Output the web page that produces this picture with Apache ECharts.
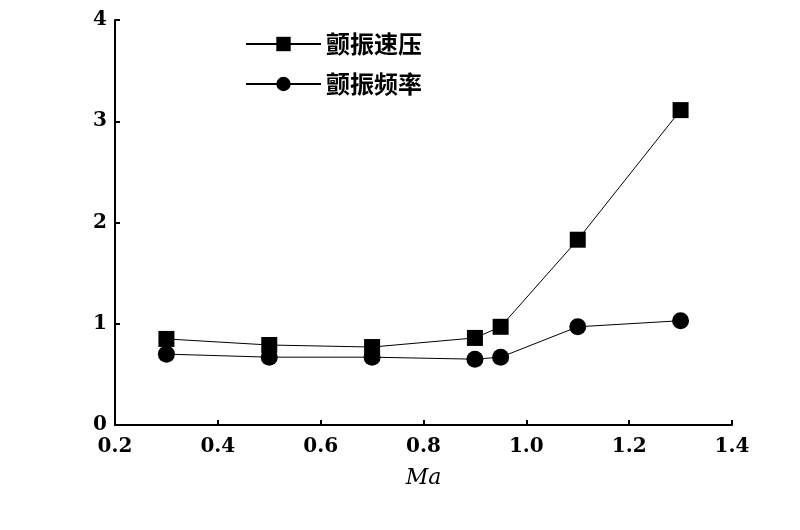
<!DOCTYPE html>
<html><head><meta charset="utf-8">
<script src="https://cdn.jsdelivr.net/npm/echarts@6/dist/echarts.min.js"></script>
</head><body style="margin:0;background:#fff">
<div id="c" style="width:800px;height:530px"></div>
<script>
const xVals = [0.3, 0.5, 0.7, 0.9, 0.95, 1.1, 1.3];
const pressure = [0.85, 0.79, 0.77, 0.86, 0.97, 1.83, 3.11];
const freq = [0.70, 0.67, 0.67, 0.65, 0.67, 0.97, 1.03];
const names = ['颤振速压', '颤振频率'];
const ch = echarts.init(document.getElementById('c'));
const font = {fontFamily: 'DejaVu Serif', fontSize: 20, color: '#000', fontWeight: 'bold'};
ch.setOption({
  animation: false,
  grid: {left: 115, right: 68, top: 20, bottom: 105},
  legend: {orient: 'vertical', left: 240, top: 27, itemGap: 16, itemWidth: 75, itemHeight: 18,
    textStyle: {fontFamily: 'Noto Sans CJK SC', fontSize: 24, color: '#000', fontWeight: 'bold'},
    data: names},
  xAxis: {type: 'value', min: 0.2, max: 1.4, interval: 0.2, name: 'Ma', nameLocation: 'middle', nameGap: 42,
    nameTextStyle: {fontFamily: 'DejaVu Serif', fontStyle: 'italic', fontSize: 22, color: '#000'},
    axisLine: {lineStyle: {color: '#000', width: 2}}, axisTick: {inside: true, lineStyle: {color: '#000', width: 2}},
    axisLabel: Object.assign({formatter: v => v.toFixed(1), margin: 12}, font), splitLine: {show: false}},
  yAxis: {type: 'value', min: 0, max: 4, interval: 1,
    axisLine: {show: true, lineStyle: {color: '#000', width: 2}}, axisTick: {show: true, inside: true, lineStyle: {color: '#000', width: 2}},
    axisLabel: font, splitLine: {show: false}},
  series: [
    {name: names[0], type: 'line', data: xVals.map((x, i) => [x, pressure[i]]), symbol: 'rect', symbolSize: 16,
      itemStyle: {color: '#000'}, lineStyle: {color: '#000', width: 1}},
    {name: names[1], type: 'line', data: xVals.map((x, i) => [x, freq[i]]), symbol: 'circle', symbolSize: 17,
      itemStyle: {color: '#000'}, lineStyle: {color: '#000', width: 1}}
  ]
});
</script></body></html>
